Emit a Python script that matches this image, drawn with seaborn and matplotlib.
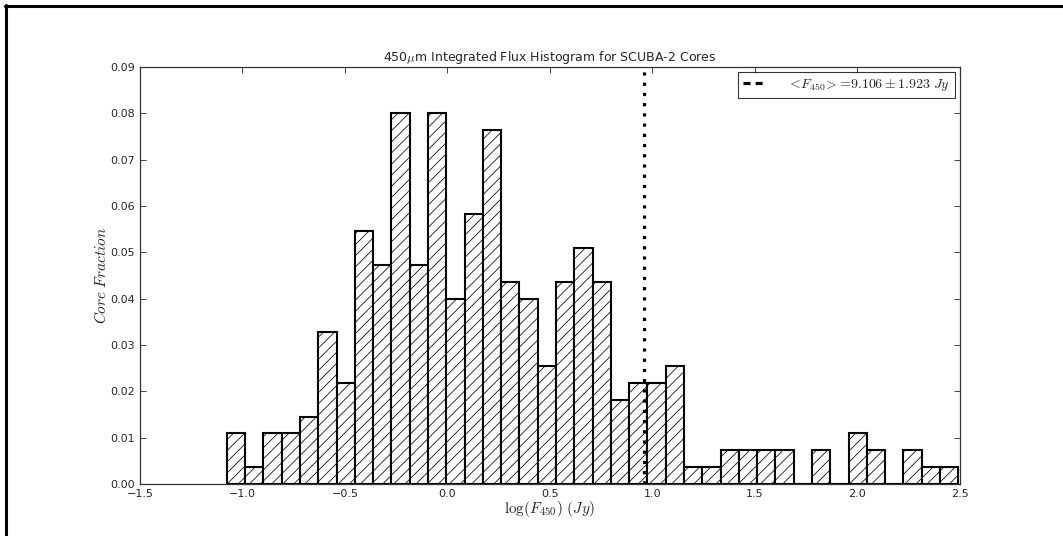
import numpy as np
import pandas as pd
import matplotlib
matplotlib.use("Agg")
import matplotlib.pyplot as plt
from matplotlib.lines import Line2D
import seaborn as sns

# Histogram of log10(450um integrated flux) for SCUBA-2 cores
n_cores = 275
log_flux_min = -1.076
log_flux_max = 2.492
n_bins = 40
bin_counts = [3, 1, 3, 3, 4, 9, 6, 15, 13, 22,
              13, 22, 11, 16, 21, 12, 11, 7, 12, 14,
              12, 5, 6, 6, 7, 1, 1, 2, 2, 2,
              2, 0, 2, 0, 3, 2, 0, 2, 1, 1]
mean_flux = 9.106
mean_flux_err = 1.923

x_ticks = [-1.5, -1.0, -0.5, 0.0, 0.5, 1.0, 1.5, 2.0, 2.5]
y_ticks = [0.00, 0.01, 0.02, 0.03, 0.04, 0.05, 0.06, 0.07, 0.08, 0.09]

edges = np.linspace(log_flux_min, log_flux_max, n_bins + 1)
centers = 0.5 * (edges[:-1] + edges[1:])
df = pd.DataFrame({"logF": centers,
                   "frac": np.array(bin_counts, dtype=float) / n_cores})

sns.set_style("ticks")
plt.rcParams.update({
    "font.family": ["DejaVu Sans"],
    "mathtext.fontset": "cm",
    "hatch.linewidth": 0.55,
    "xtick.direction": "in",
    "ytick.direction": "in",
    "xtick.top": True,
    "ytick.right": True,
    "xtick.major.size": 4,
    "ytick.major.size": 4,
    "xtick.major.width": 0.6,
    "ytick.major.width": 0.6,
})

fig = plt.figure(figsize=(10.63, 5.36), dpi=100)
ax = fig.add_axes([0.1317, 0.097, 0.7714, 0.778])

sns.histplot(data=df, x="logF", weights="frac", bins=n_bins,
             binrange=(log_flux_min, log_flux_max), ax=ax,
             stat="count", fill=True, color="white", alpha=1.0,
             edgecolor="black", linewidth=1.5, hatch="///")

mean_log = np.log10(mean_flux)
ax.axvline(mean_log, color="black", linewidth=2.3, linestyle=(0, (1, 2.2)))

ax.set_xlim(-1.5, 2.5)
ax.set_ylim(0, 0.09)
ax.set_xticks(x_ticks)
ax.set_yticks(y_ticks)
ax.set_xticklabels([f"{v:.1f}".replace("-", "\u2212") for v in x_ticks], fontsize=8)
ax.set_yticklabels([f"{v:.2f}" for v in y_ticks], fontsize=8)
for s in ax.spines.values():
    s.set_visible(True)
    s.set_linewidth(0.9)
    s.set_color("#333333")

ax.set_title(r"450$\mu$m Integrated Flux Histogram for SCUBA-2 Cores",
             fontsize=9, pad=4)
ax.set_xlabel(r"$\log(F_{450})\ (Jy)$", fontsize=11, labelpad=0)
ax.set_ylabel(r"$Core\ Fraction$", fontsize=11, labelpad=1)

handle = Line2D([], [], color="black", linewidth=2.3, linestyle=(0, (2.2, 1.6)))
leg = ax.legend([handle],
                [r"$<\!F_{450}\!>\!=\!9.106\pm1.923\ Jy$"],
                loc="upper right", fontsize=10, frameon=True, fancybox=False,
                handlelength=1.6, borderpad=0.35, borderaxespad=0.35,
                handletextpad=1.6)
leg.get_frame().set_edgecolor("black")
leg.get_frame().set_linewidth(0.8)

# page frame along top and left edges
fig.add_artist(Line2D([5 / 1063, 1.0], [1 - 5.5 / 536, 1 - 5.5 / 536],
                      transform=fig.transFigure, color="black", linewidth=2.2))
fig.add_artist(Line2D([5.5 / 1063, 5.5 / 1063], [0.0, 1 - 5 / 536],
                      transform=fig.transFigure, color="black", linewidth=2.2))

fig.savefig("out.png", dpi=100)
